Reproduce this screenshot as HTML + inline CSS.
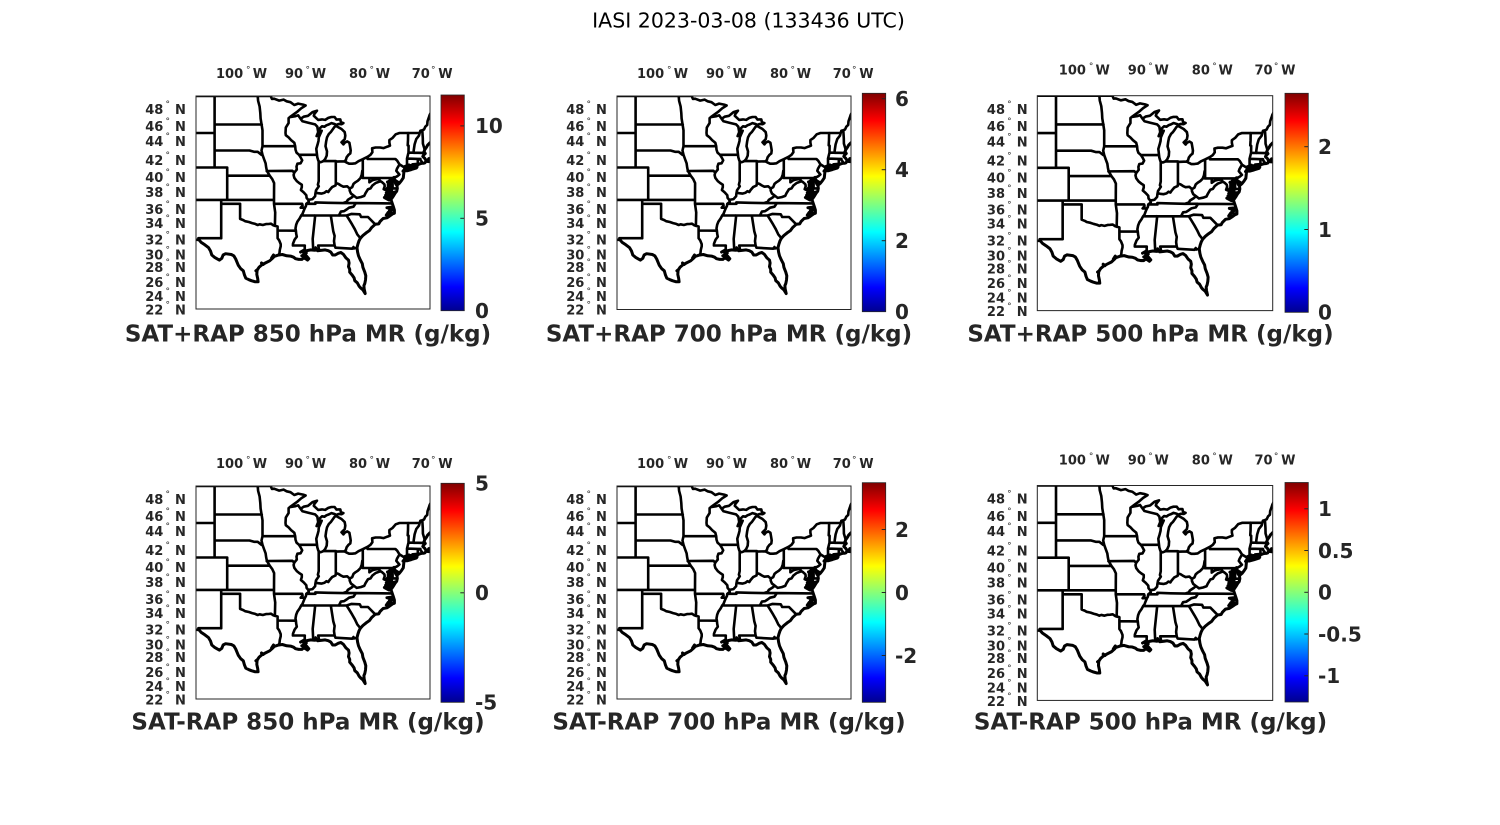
<!DOCTYPE html>
<html><head><meta charset="utf-8">
<style>
html,body{margin:0;padding:0;background:#fff;}
svg{display:block;}
.tt{font-family:"DejaVu Sans","Liberation Sans",sans-serif;font-size:20.5px;fill:#000;}
.lt{font-family:"DejaVu Sans","Liberation Sans",sans-serif;font-weight:bold;font-size:13px;fill:#262626;}
.lo{font-family:"DejaVu Sans","Liberation Sans",sans-serif;font-weight:bold;font-size:13px;fill:#262626;}
.dg{font-family:"DejaVu Sans","Liberation Sans",sans-serif;font-size:9px;fill:#262626;text-anchor:middle;}
.cb{font-family:"DejaVu Sans","Liberation Sans",sans-serif;font-weight:bold;font-size:20px;fill:#262626;}
.xl{font-family:"DejaVu Sans","Liberation Sans",sans-serif;font-weight:bold;font-size:23px;fill:#262626;text-anchor:middle;}
.bx{fill:none;stroke:#262626;stroke-width:1;}
.cbr{stroke:#262626;stroke-width:0.8;}
.tk{stroke:#262626;stroke-width:1;}
</style></head>
<body>
<svg width="1500" height="825" viewBox="0 0 1500 825" xmlns="http://www.w3.org/2000/svg">
<defs>
<linearGradient id="jet" x1="0" y1="1" x2="0" y2="0">
<stop offset="0" stop-color="#00008f"/>
<stop offset="0.11" stop-color="#0000ff"/>
<stop offset="0.365" stop-color="#00ffff"/>
<stop offset="0.62" stop-color="#ffff00"/>
<stop offset="0.875" stop-color="#ff0000"/>
<stop offset="1" stop-color="#800000"/>
</linearGradient>
<clipPath id="cp"><rect x="0" y="0" width="234" height="213"/></clipPath>
<g id="map"><path id="mp" d="" fill="none" stroke="#000" stroke-width="2.6" stroke-linejoin="round" stroke-linecap="round"/><path id="mp2" d="" fill="none" stroke="#000" stroke-width="3" stroke-linejoin="round" stroke-linecap="round"/></g>
</defs>
<rect width="1500" height="825" fill="#fff"/>

<text class="tt" x="748.5" y="27.3" text-anchor="middle">IASI 2023-03-08 (133436 UTC)</text>

<g transform="translate(196,96)"><g clip-path="url(#cp)"><use href="#map"/></g><rect class="bx" width="234" height="213"/></g>
<g transform="translate(617,96)"><g clip-path="url(#cp)"><use href="#map"/></g><rect class="bx" width="234" height="213.5"/></g>
<g transform="translate(1037.3,95.7) scale(1.006,1.009)"><g clip-path="url(#cp)"><use href="#map"/></g><rect class="bx" width="234" height="213"/></g>
<g transform="translate(196,486)"><g clip-path="url(#cp)"><use href="#map"/></g><rect class="bx" width="234" height="213"/></g>
<g transform="translate(617,486)"><g clip-path="url(#cp)"><use href="#map"/></g><rect class="bx" width="234" height="213"/></g>
<g transform="translate(1037.3,485.5) scale(1.006,1.009)"><g clip-path="url(#cp)"><use href="#map"/></g><rect class="bx" width="234" height="213"/></g>

<rect class="cbr" x="441" y="95" width="23.3" height="215.7" fill="url(#jet)"/>
<rect class="cbr" x="862.3" y="93.3" width="23.4" height="218.4" fill="url(#jet)"/>
<rect class="cbr" x="1285" y="93.3" width="23.3" height="219" fill="url(#jet)"/>
<rect class="cbr" x="441" y="483.3" width="23.3" height="219" fill="url(#jet)"/>
<rect class="cbr" x="862.3" y="482.7" width="23.4" height="219.6" fill="url(#jet)"/>
<rect class="cbr" x="1285" y="482.5" width="23.3" height="219.5" fill="url(#jet)"/>
<g class="tk">
<line x1="460.3" y1="125.9" x2="464.3" y2="125.9"/><line x1="460.3" y1="218.3" x2="464.3" y2="218.3"/>
<line x1="881.7" y1="98.7" x2="885.7" y2="98.7"/><line x1="881.7" y1="169.7" x2="885.7" y2="169.7"/><line x1="881.7" y1="240.7" x2="885.7" y2="240.7"/>
<line x1="1304.3" y1="146.7" x2="1308.3" y2="146.7"/><line x1="1304.3" y1="229.5" x2="1308.3" y2="229.5"/>
<line x1="460.3" y1="592.8" x2="464.3" y2="592.8"/>
<line x1="881.7" y1="529.5" x2="885.7" y2="529.5"/><line x1="881.7" y1="592.5" x2="885.7" y2="592.5"/><line x1="881.7" y1="655.5" x2="885.7" y2="655.5"/>
<line x1="1304.3" y1="508.8" x2="1308.3" y2="508.8"/><line x1="1304.3" y1="550.5" x2="1308.3" y2="550.5"/><line x1="1304.3" y1="592.3" x2="1308.3" y2="592.3"/><line x1="1304.3" y1="634" x2="1308.3" y2="634"/><line x1="1304.3" y1="675.8" x2="1308.3" y2="675.8"/>
</g>

<text class="cb" x="475" y="133.2">10</text><text class="cb" x="475" y="225.6">5</text><text class="cb" x="475" y="318">0</text>
<text class="cb" x="895" y="106">6</text><text class="cb" x="895" y="177">4</text><text class="cb" x="895" y="248">2</text><text class="cb" x="895" y="319">0</text>
<text class="cb" x="1318" y="154">2</text><text class="cb" x="1318" y="236.8">1</text><text class="cb" x="1318" y="319.6">0</text>
<text class="cb" x="475" y="490.6">5</text><text class="cb" x="475" y="600.1">0</text><text class="cb" x="475" y="709.6">-5</text>
<text class="cb" x="895" y="536.8">2</text><text class="cb" x="895" y="599.8">0</text><text class="cb" x="895" y="662.8">-2</text>
<text class="cb" x="1318" y="516.1">1</text><text class="cb" x="1318" y="557.8">0.5</text><text class="cb" x="1318" y="599.6">0</text><text class="cb" x="1318" y="641.3">-0.5</text><text class="cb" x="1318" y="683.1">-1</text>

<text class="xl" x="308" y="341.5">SAT+RAP 850 hPa MR (g/kg)</text>
<text class="xl" x="729" y="341.5">SAT+RAP 700 hPa MR (g/kg)</text>
<text class="xl" x="1150.5" y="341.5">SAT+RAP 500 hPa MR (g/kg)</text>
<text class="xl" x="308" y="729.3">SAT-RAP 850 hPa MR (g/kg)</text>
<text class="xl" x="729" y="729.3">SAT-RAP 700 hPa MR (g/kg)</text>
<text class="xl" x="1150.5" y="729.3">SAT-RAP 500 hPa MR (g/kg)</text>

<g>
<text class="lo" x="216" y="78">100</text><text class="dg" x="248.3" y="72.5">°</text><text class="lo" x="252.7" y="78">W</text>
<text class="lo" x="285" y="78">90</text><text class="dg" x="307.7" y="72.5">°</text><text class="lo" x="311.7" y="78">W</text>
<text class="lo" x="349" y="78">80</text><text class="dg" x="371.7" y="72.5">°</text><text class="lo" x="375.7" y="78">W</text>
<text class="lo" x="411.7" y="78">70</text><text class="dg" x="433.3" y="72.5">°</text><text class="lo" x="438.3" y="78">W</text>
</g>
<g>
<text class="lo" x="637" y="78">100</text><text class="dg" x="669.3" y="72.5">°</text><text class="lo" x="673.7" y="78">W</text>
<text class="lo" x="706" y="78">90</text><text class="dg" x="728.7" y="72.5">°</text><text class="lo" x="732.7" y="78">W</text>
<text class="lo" x="770" y="78">80</text><text class="dg" x="792.7" y="72.5">°</text><text class="lo" x="796.7" y="78">W</text>
<text class="lo" x="832.7" y="78">70</text><text class="dg" x="854.3" y="72.5">°</text><text class="lo" x="859.3" y="78">W</text>
</g>
<g>
<text class="lo" x="1058.8" y="74.7">100</text><text class="dg" x="1091.1" y="69.2">°</text><text class="lo" x="1095.5" y="74.7">W</text>
<text class="lo" x="1127.8" y="74.7">90</text><text class="dg" x="1150.5" y="69.2">°</text><text class="lo" x="1154.5" y="74.7">W</text>
<text class="lo" x="1191.8" y="74.7">80</text><text class="dg" x="1214.5" y="69.2">°</text><text class="lo" x="1218.5" y="74.7">W</text>
<text class="lo" x="1254.5" y="74.7">70</text><text class="dg" x="1276.1" y="69.2">°</text><text class="lo" x="1281.1" y="74.7">W</text>
</g>
<g>
<text class="lo" x="216" y="468">100</text><text class="dg" x="248.3" y="462.5">°</text><text class="lo" x="252.7" y="468">W</text>
<text class="lo" x="285" y="468">90</text><text class="dg" x="307.7" y="462.5">°</text><text class="lo" x="311.7" y="468">W</text>
<text class="lo" x="349" y="468">80</text><text class="dg" x="371.7" y="462.5">°</text><text class="lo" x="375.7" y="468">W</text>
<text class="lo" x="411.7" y="468">70</text><text class="dg" x="433.3" y="462.5">°</text><text class="lo" x="438.3" y="468">W</text>
</g>
<g>
<text class="lo" x="637" y="468">100</text><text class="dg" x="669.3" y="462.5">°</text><text class="lo" x="673.7" y="468">W</text>
<text class="lo" x="706" y="468">90</text><text class="dg" x="728.7" y="462.5">°</text><text class="lo" x="732.7" y="468">W</text>
<text class="lo" x="770" y="468">80</text><text class="dg" x="792.7" y="462.5">°</text><text class="lo" x="796.7" y="468">W</text>
<text class="lo" x="832.7" y="468">70</text><text class="dg" x="854.3" y="462.5">°</text><text class="lo" x="859.3" y="468">W</text>
</g>
<g>
<text class="lo" x="1058.8" y="464.7">100</text><text class="dg" x="1091.1" y="459.2">°</text><text class="lo" x="1095.5" y="464.7">W</text>
<text class="lo" x="1127.8" y="464.7">90</text><text class="dg" x="1150.5" y="459.2">°</text><text class="lo" x="1154.5" y="464.7">W</text>
<text class="lo" x="1191.8" y="464.7">80</text><text class="dg" x="1214.5" y="459.2">°</text><text class="lo" x="1218.5" y="464.7">W</text>
<text class="lo" x="1254.5" y="464.7">70</text><text class="dg" x="1276.1" y="459.2">°</text><text class="lo" x="1281.1" y="464.7">W</text>
</g>

<g text-anchor="end">
<text class="lt" x="163.3" y="114">48</text><text class="lt" x="163.3" y="131.2">46</text><text class="lt" x="163.3" y="146.2">44</text><text class="lt" x="163.3" y="165.2">42</text><text class="lt" x="163.3" y="182.2">40</text><text class="lt" x="163.3" y="197.2">38</text><text class="lt" x="163.3" y="213.8">36</text><text class="lt" x="163.3" y="227.8">34</text><text class="lt" x="163.3" y="244.5">32</text><text class="lt" x="163.3" y="259.5">30</text><text class="lt" x="163.3" y="272.2">28</text><text class="lt" x="163.3" y="286.8">26</text><text class="lt" x="163.3" y="301.2">24</text><text class="lt" x="163.3" y="314.5">22</text>
</g>
<g>
<text class="dg" x="167.7" y="107">°</text><text class="dg" x="167.7" y="124.2">°</text><text class="dg" x="167.7" y="139.2">°</text><text class="dg" x="167.7" y="158.2">°</text><text class="dg" x="167.7" y="175.2">°</text><text class="dg" x="167.7" y="190.2">°</text><text class="dg" x="167.7" y="206.8">°</text><text class="dg" x="167.7" y="220.8">°</text><text class="dg" x="167.7" y="237.5">°</text><text class="dg" x="167.7" y="252.5">°</text><text class="dg" x="167.7" y="265.2">°</text><text class="dg" x="167.7" y="279.8">°</text><text class="dg" x="167.7" y="294.2">°</text><text class="dg" x="167.7" y="307.5">°</text>
</g>
<g>
<text class="lt" x="175" y="114">N</text><text class="lt" x="175" y="131.2">N</text><text class="lt" x="175" y="146.2">N</text><text class="lt" x="175" y="165.2">N</text><text class="lt" x="175" y="182.2">N</text><text class="lt" x="175" y="197.2">N</text><text class="lt" x="175" y="213.8">N</text><text class="lt" x="175" y="227.8">N</text><text class="lt" x="175" y="244.5">N</text><text class="lt" x="175" y="259.5">N</text><text class="lt" x="175" y="272.2">N</text><text class="lt" x="175" y="286.8">N</text><text class="lt" x="175" y="301.2">N</text><text class="lt" x="175" y="314.5">N</text>
</g>

<g text-anchor="end">
<text class="lt" x="584.3" y="114">48</text><text class="lt" x="584.3" y="131.2">46</text><text class="lt" x="584.3" y="146.2">44</text><text class="lt" x="584.3" y="165.2">42</text><text class="lt" x="584.3" y="182.2">40</text><text class="lt" x="584.3" y="197.2">38</text><text class="lt" x="584.3" y="213.8">36</text><text class="lt" x="584.3" y="227.8">34</text><text class="lt" x="584.3" y="244.5">32</text><text class="lt" x="584.3" y="259.5">30</text><text class="lt" x="584.3" y="272.2">28</text><text class="lt" x="584.3" y="286.8">26</text><text class="lt" x="584.3" y="301.2">24</text><text class="lt" x="584.3" y="314.5">22</text>
</g>
<g>
<text class="dg" x="588.7" y="107">°</text><text class="dg" x="588.7" y="124.2">°</text><text class="dg" x="588.7" y="139.2">°</text><text class="dg" x="588.7" y="158.2">°</text><text class="dg" x="588.7" y="175.2">°</text><text class="dg" x="588.7" y="190.2">°</text><text class="dg" x="588.7" y="206.8">°</text><text class="dg" x="588.7" y="220.8">°</text><text class="dg" x="588.7" y="237.5">°</text><text class="dg" x="588.7" y="252.5">°</text><text class="dg" x="588.7" y="265.2">°</text><text class="dg" x="588.7" y="279.8">°</text><text class="dg" x="588.7" y="294.2">°</text><text class="dg" x="588.7" y="307.5">°</text>
</g>
<g>
<text class="lt" x="596" y="114">N</text><text class="lt" x="596" y="131.2">N</text><text class="lt" x="596" y="146.2">N</text><text class="lt" x="596" y="165.2">N</text><text class="lt" x="596" y="182.2">N</text><text class="lt" x="596" y="197.2">N</text><text class="lt" x="596" y="213.8">N</text><text class="lt" x="596" y="227.8">N</text><text class="lt" x="596" y="244.5">N</text><text class="lt" x="596" y="259.5">N</text><text class="lt" x="596" y="272.2">N</text><text class="lt" x="596" y="286.8">N</text><text class="lt" x="596" y="301.2">N</text><text class="lt" x="596" y="314.5">N</text>
</g>

<g text-anchor="end">
<text class="lt" x="1005" y="113.8">48</text><text class="lt" x="1005" y="131.2">46</text><text class="lt" x="1005" y="146.3">44</text><text class="lt" x="1005" y="165.5">42</text><text class="lt" x="1005" y="182.6">40</text><text class="lt" x="1005" y="197.8">38</text><text class="lt" x="1005" y="214.5">36</text><text class="lt" x="1005" y="228.6">34</text><text class="lt" x="1005" y="245.5">32</text><text class="lt" x="1005" y="260.6">30</text><text class="lt" x="1005" y="273.4">28</text><text class="lt" x="1005" y="288.2">26</text><text class="lt" x="1005" y="302.7">24</text><text class="lt" x="1005" y="316.1">22</text>
</g>
<g>
<text class="dg" x="1009.4" y="106.8">°</text><text class="dg" x="1009.4" y="124.2">°</text><text class="dg" x="1009.4" y="139.3">°</text><text class="dg" x="1009.4" y="158.5">°</text><text class="dg" x="1009.4" y="175.6">°</text><text class="dg" x="1009.4" y="190.8">°</text><text class="dg" x="1009.4" y="207.5">°</text><text class="dg" x="1009.4" y="221.6">°</text><text class="dg" x="1009.4" y="238.5">°</text><text class="dg" x="1009.4" y="253.6">°</text><text class="dg" x="1009.4" y="266.4">°</text><text class="dg" x="1009.4" y="281.2">°</text><text class="dg" x="1009.4" y="295.7">°</text><text class="dg" x="1009.4" y="309.1">°</text>
</g>
<g>
<text class="lt" x="1016.7" y="113.8">N</text><text class="lt" x="1016.7" y="131.2">N</text><text class="lt" x="1016.7" y="146.3">N</text><text class="lt" x="1016.7" y="165.5">N</text><text class="lt" x="1016.7" y="182.6">N</text><text class="lt" x="1016.7" y="197.8">N</text><text class="lt" x="1016.7" y="214.5">N</text><text class="lt" x="1016.7" y="228.6">N</text><text class="lt" x="1016.7" y="245.5">N</text><text class="lt" x="1016.7" y="260.6">N</text><text class="lt" x="1016.7" y="273.4">N</text><text class="lt" x="1016.7" y="288.2">N</text><text class="lt" x="1016.7" y="302.7">N</text><text class="lt" x="1016.7" y="316.1">N</text>
</g>

<g text-anchor="end">
<text class="lt" x="163.3" y="504">48</text><text class="lt" x="163.3" y="521.2">46</text><text class="lt" x="163.3" y="536.2">44</text><text class="lt" x="163.3" y="555.2">42</text><text class="lt" x="163.3" y="572.2">40</text><text class="lt" x="163.3" y="587.2">38</text><text class="lt" x="163.3" y="603.8">36</text><text class="lt" x="163.3" y="617.8">34</text><text class="lt" x="163.3" y="634.5">32</text><text class="lt" x="163.3" y="649.5">30</text><text class="lt" x="163.3" y="662.2">28</text><text class="lt" x="163.3" y="676.8">26</text><text class="lt" x="163.3" y="691.2">24</text><text class="lt" x="163.3" y="704.5">22</text>
</g>
<g>
<text class="dg" x="167.7" y="497">°</text><text class="dg" x="167.7" y="514.2">°</text><text class="dg" x="167.7" y="529.2">°</text><text class="dg" x="167.7" y="548.2">°</text><text class="dg" x="167.7" y="565.2">°</text><text class="dg" x="167.7" y="580.2">°</text><text class="dg" x="167.7" y="596.8">°</text><text class="dg" x="167.7" y="610.8">°</text><text class="dg" x="167.7" y="627.5">°</text><text class="dg" x="167.7" y="642.5">°</text><text class="dg" x="167.7" y="655.2">°</text><text class="dg" x="167.7" y="669.8">°</text><text class="dg" x="167.7" y="684.2">°</text><text class="dg" x="167.7" y="697.5">°</text>
</g>
<g>
<text class="lt" x="175" y="504">N</text><text class="lt" x="175" y="521.2">N</text><text class="lt" x="175" y="536.2">N</text><text class="lt" x="175" y="555.2">N</text><text class="lt" x="175" y="572.2">N</text><text class="lt" x="175" y="587.2">N</text><text class="lt" x="175" y="603.8">N</text><text class="lt" x="175" y="617.8">N</text><text class="lt" x="175" y="634.5">N</text><text class="lt" x="175" y="649.5">N</text><text class="lt" x="175" y="662.2">N</text><text class="lt" x="175" y="676.8">N</text><text class="lt" x="175" y="691.2">N</text><text class="lt" x="175" y="704.5">N</text>
</g>

<g text-anchor="end">
<text class="lt" x="584.3" y="504">48</text><text class="lt" x="584.3" y="521.2">46</text><text class="lt" x="584.3" y="536.2">44</text><text class="lt" x="584.3" y="555.2">42</text><text class="lt" x="584.3" y="572.2">40</text><text class="lt" x="584.3" y="587.2">38</text><text class="lt" x="584.3" y="603.8">36</text><text class="lt" x="584.3" y="617.8">34</text><text class="lt" x="584.3" y="634.5">32</text><text class="lt" x="584.3" y="649.5">30</text><text class="lt" x="584.3" y="662.2">28</text><text class="lt" x="584.3" y="676.8">26</text><text class="lt" x="584.3" y="691.2">24</text><text class="lt" x="584.3" y="704.5">22</text>
</g>
<g>
<text class="dg" x="588.7" y="497">°</text><text class="dg" x="588.7" y="514.2">°</text><text class="dg" x="588.7" y="529.2">°</text><text class="dg" x="588.7" y="548.2">°</text><text class="dg" x="588.7" y="565.2">°</text><text class="dg" x="588.7" y="580.2">°</text><text class="dg" x="588.7" y="596.8">°</text><text class="dg" x="588.7" y="610.8">°</text><text class="dg" x="588.7" y="627.5">°</text><text class="dg" x="588.7" y="642.5">°</text><text class="dg" x="588.7" y="655.2">°</text><text class="dg" x="588.7" y="669.8">°</text><text class="dg" x="588.7" y="684.2">°</text><text class="dg" x="588.7" y="697.5">°</text>
</g>
<g>
<text class="lt" x="596" y="504">N</text><text class="lt" x="596" y="521.2">N</text><text class="lt" x="596" y="536.2">N</text><text class="lt" x="596" y="555.2">N</text><text class="lt" x="596" y="572.2">N</text><text class="lt" x="596" y="587.2">N</text><text class="lt" x="596" y="603.8">N</text><text class="lt" x="596" y="617.8">N</text><text class="lt" x="596" y="634.5">N</text><text class="lt" x="596" y="649.5">N</text><text class="lt" x="596" y="662.2">N</text><text class="lt" x="596" y="676.8">N</text><text class="lt" x="596" y="691.2">N</text><text class="lt" x="596" y="704.5">N</text>
</g>

<g text-anchor="end">
<text class="lt" x="1005" y="503.6">48</text><text class="lt" x="1005" y="521">46</text><text class="lt" x="1005" y="536.1">44</text><text class="lt" x="1005" y="555.3">42</text><text class="lt" x="1005" y="572.4">40</text><text class="lt" x="1005" y="587.6">38</text><text class="lt" x="1005" y="604.3">36</text><text class="lt" x="1005" y="618.4">34</text><text class="lt" x="1005" y="635.3">32</text><text class="lt" x="1005" y="650.4">30</text><text class="lt" x="1005" y="663.2">28</text><text class="lt" x="1005" y="678">26</text><text class="lt" x="1005" y="692.5">24</text><text class="lt" x="1005" y="705.9">22</text>
</g>
<g>
<text class="dg" x="1009.4" y="496.6">°</text><text class="dg" x="1009.4" y="514">°</text><text class="dg" x="1009.4" y="529.1">°</text><text class="dg" x="1009.4" y="548.3">°</text><text class="dg" x="1009.4" y="565.4">°</text><text class="dg" x="1009.4" y="580.6">°</text><text class="dg" x="1009.4" y="597.3">°</text><text class="dg" x="1009.4" y="611.4">°</text><text class="dg" x="1009.4" y="628.3">°</text><text class="dg" x="1009.4" y="643.4">°</text><text class="dg" x="1009.4" y="656.2">°</text><text class="dg" x="1009.4" y="671">°</text><text class="dg" x="1009.4" y="685.5">°</text><text class="dg" x="1009.4" y="698.9">°</text>
</g>
<g>
<text class="lt" x="1016.7" y="503.6">N</text><text class="lt" x="1016.7" y="521">N</text><text class="lt" x="1016.7" y="536.1">N</text><text class="lt" x="1016.7" y="555.3">N</text><text class="lt" x="1016.7" y="572.4">N</text><text class="lt" x="1016.7" y="587.6">N</text><text class="lt" x="1016.7" y="604.3">N</text><text class="lt" x="1016.7" y="618.4">N</text><text class="lt" x="1016.7" y="635.3">N</text><text class="lt" x="1016.7" y="650.4">N</text><text class="lt" x="1016.7" y="663.2">N</text><text class="lt" x="1016.7" y="678">N</text><text class="lt" x="1016.7" y="692.5">N</text><text class="lt" x="1016.7" y="705.9">N</text>
</g>
</svg>
<script>
(function(){
var L=[
[-107,49,-95.15,49],
[-95.15,49,-94.95,48.7,-94.6,48.72,-93.8,48.52,-93.1,48.62,-92.6,48.45,-92.0,48.35,-91.4,48.05,-90.8,48.2,-90.0,48.1,-89.6,48.0,-90.3,47.7,-91.0,47.3,-91.6,47.0,-92.1,46.75],
[-92.1,46.75,-91.2,46.85,-90.8,46.95,-90.4,46.57,-89.9,46.8,-89.2,46.9,-88.5,47.3,-87.8,47.45,-88.2,47.1,-88.3,46.9,-87.6,46.45,-87.0,46.5,-86.5,46.45,-86.0,46.67,-85.5,46.76,-85.0,46.76,-84.7,46.48,-84.4,46.5,-84.1,46.5,-84.0,46.2,-83.6,46.1,-83.9,45.98,-84.4,46.0,-84.7,45.9,-85.0,46.0,-85.5,46.1,-85.9,45.95,-86.3,45.85,-86.6,45.7,-87.0,45.75,-87.3,45.55,-87.6,45.1],
[-90.4,46.57,-90.1,46.3,-89.1,46.12,-88.1,45.95,-87.75,45.7,-87.6,45.1],
[-87.6,45.1,-87.85,44.65,-87.5,44.9,-87.05,45.25,-87.3,44.85,-87.5,44.5,-87.55,44.1,-87.7,43.7,-87.9,43.2,-87.8,42.5,-87.75,42.2,-87.6,41.85,-87.5,41.68,-87.2,41.63,-86.8,41.75,-86.5,42.0,-86.25,42.4,-86.2,42.9,-86.45,43.5,-86.35,44.0,-86.2,44.5,-85.9,44.9,-85.6,45.1,-85.4,45.3,-85.0,45.7,-84.75,45.78,-84.3,45.6,-83.9,45.45,-83.4,45.1,-83.3,44.7,-83.4,44.3,-83.9,43.95,-83.6,43.7,-83.4,43.9,-83.0,44.05,-82.65,43.9,-82.5,43.3,-82.45,43.0,-82.5,42.65,-82.8,42.5,-83.1,42.2,-83.2,41.9,-83.45,41.73,-83.0,41.55,-82.7,41.45,-82.2,41.45,-81.7,41.5,-81.2,41.75,-80.52,41.98,-79.76,42.27,-79.3,42.5,-79.0,42.8,-79.05,43.25,-78.5,43.35,-77.8,43.35,-77.2,43.28,-76.6,43.45,-76.2,43.55,-76.3,43.9,-76.3,44.2,-75.8,44.45,-75.3,44.85,-74.7,45.0,-71.5,45.01,-71.4,45.24,-71.08,45.3,-70.8,45.4,-70.6,45.7,-70.3,45.9,-70.25,46.3,-70.05,46.7,-69.9,47.0,-69.6,47.4],
[-92.1,46.75,-92.3,46.65,-92.3,46.1,-92.75,45.6,-92.8,45.0,-92.75,44.75,-92.3,44.5,-91.9,44.2,-91.4,43.9,-91.25,43.5,-91.2,43.1,-91.05,42.75,-90.65,42.5,-90.4,42.2,-90.15,41.85,-90.4,41.5,-90.9,41.45,-91.05,41.1,-91.0,40.75,-91.4,40.38,-91.5,40.1,-91.4,39.75,-91.0,39.35,-90.6,39.1,-90.2,38.9,-90.2,38.6,-90.35,38.25,-89.9,37.95,-89.5,37.6,-89.45,37.25,-89.17,37.0,-89.1,36.75,-89.5,36.5,-89.55,36.2,-89.7,36.0,-89.9,35.6,-90.1,35.2,-90.3,35.0,-90.55,34.6,-90.9,34.2,-91.1,33.8,-91.2,33.3,-91.15,33.0,-91.1,32.6,-91.0,32.2,-91.35,31.8,-91.6,31.25,-91.62,31.0],
[-97.2,49.0,-97.15,48.5,-96.9,47.9,-96.8,47.2,-96.75,46.6,-96.6,46.0,-96.55,45.8,-96.45,45.3,-96.45,43.5],
[-104.05,49,-104.05,41],
[-107,45,-104.05,45],
[-104.05,45.94,-96.56,45.94],
[-104.05,43.0,-98.5,43.0,-97.8,42.85,-97.2,42.85,-96.6,42.5,-96.45,42.5],
[-96.45,43.5,-96.6,43.0,-96.45,42.5],
[-96.45,43.5,-91.25,43.5],
[-96.45,42.5,-96.2,42.0,-95.95,41.5,-95.85,41.0,-95.75,40.6,-95.3,40.0,-94.9,39.6,-94.6,39.1,-94.62,37.0],
[-107,41,-102.05,41,-102.05,37],
[-102.05,40,-95.3,40],
[-95.77,40.58,-91.7,40.6,-91.42,40.38],
[-107,37,-94.62,37],
[-103,37,-103,32],
[-103,36.5,-100,36.5,-100,34.56,-99.5,34.4,-99.2,34.25,-98.6,34.15,-98.1,34.0,-97.6,33.9,-97.2,33.75,-96.9,33.85,-96.4,33.75,-95.9,33.87,-95.5,33.88,-95.1,33.93,-94.7,33.7,-94.45,33.64,-94.04,33.55,-94.04,33.02,-94.04,31.99,-93.8,31.7,-93.55,31.2,-93.55,30.9,-93.7,30.4,-93.75,30.0,-93.85,29.7],
[-94.62,37,-94.62,36.5,-94.43,35.4,-94.48,33.64],
[-94.62,36.5,-90.15,36.5,-90.08,36.3,-90.38,36.0,-89.7,36.0],
[-94.04,33.02,-91.15,33.0],
[-103,32,-106.62,32.0,-106.53,31.78,-107.2,31.78],
[-91.62,31.0,-89.73,31.0,-89.75,30.6,-89.6,30.2],
[-88.2,35.0,-88.1,34.9,-88.47,31.9,-88.4,30.4],
[-90.3,35.0,-84.32,35.0],
[-85.6,35.0,-85.2,32.9,-85.0,32.3,-85.1,31.6,-85.0,31.0],
[-87.45,30.35,-87.6,31.0,-85.0,31.0],
[-85.0,31.0,-84.85,30.7,-82.2,30.57,-82.0,30.8,-81.95,30.6,-81.45,30.7],
[-83.1,35.0,-82.8,34.6,-82.2,33.8,-81.8,33.2,-81.4,32.5,-80.9,32.0],
[-83.1,35.0,-82.3,35.2,-81.0,35.15,-80.9,35.0,-80.8,34.8,-79.7,34.8,-78.55,33.85],
[-84.32,35.0,-83.1,35.0],
[-84.32,35.0,-84.0,35.5,-83.5,35.56,-83.1,35.77,-82.7,36.0,-82.0,36.13,-81.7,36.5,-81.68,36.59],
[-81.68,36.59,-75.87,36.55],
[-89.5,36.5,-88.05,36.5,-88.07,36.68,-86.0,36.63,-83.68,36.6,-81.68,36.59],
[-83.68,36.6,-83.1,36.75,-82.9,37.0,-82.3,37.3,-81.97,37.54,-82.4,37.8,-82.6,38.17,-82.6,38.42],
[-81.97,37.54,-81.5,37.25,-80.85,37.35,-80.3,37.5,-80.1,37.85,-79.7,38.35,-79.3,38.45,-79.0,38.8,-78.5,39.1,-77.85,39.3,-77.72,39.32],
[-79.48,39.72,-79.48,39.2,-79.0,39.45,-78.5,39.55,-78.0,39.6,-77.72,39.32,-77.45,39.2,-77.1,38.95,-77.05,38.7,-77.2,38.35,-76.9,38.25,-76.3,38.0],
[-80.52,40.64,-80.52,39.72,-75.79,39.72,-75.79,38.45,-75.05,38.45],
[-75.79,39.72,-75.55,39.83,-75.4,39.8],
[-75.9,37.95,-75.24,38.03],
[-89.17,37.0,-88.5,37.1,-88.1,37.45,-88.05,37.8,-87.9,37.9,-87.6,37.85,-87.1,37.8,-86.6,37.9,-86.3,38.1,-86.0,38.0,-85.8,38.25,-85.4,38.6,-84.85,38.8,-84.8,39.1,-84.4,39.0,-84.0,38.8,-83.6,38.65,-83.0,38.7,-82.6,38.42,-82.2,38.6,-82.0,39.0,-81.7,39.2,-81.3,39.4,-80.9,39.7,-80.7,40.1,-80.6,40.6,-80.52,40.64],
[-87.53,41.76,-87.53,39.35,-87.65,38.9,-87.5,38.7,-87.95,38.2,-88.05,37.8],
[-84.81,41.76,-84.81,39.1],
[-86.82,41.76,-84.81,41.76,-84.81,41.7,-83.45,41.73],
[-90.65,42.5,-87.8,42.5],
[-80.52,40.64,-80.52,41.98],
[-79.76,42.27,-79.76,42.0,-75.35,42.0,-75.07,41.8,-74.7,41.36,-73.9,40.99],
[-74.7,41.36,-75.1,40.85,-75.2,40.6,-75.0,40.4,-74.72,40.15,-75.05,39.95,-75.4,39.8,-75.55,39.6],
[-73.34,45.01,-73.35,44.2,-73.4,43.6,-73.25,43.55,-73.27,42.75,-73.5,42.05,-73.5,41.2,-73.65,41.0],
[-73.27,42.75,-71.0,42.72,-70.8,42.87],
[-71.5,45.01,-71.6,44.7,-72.05,44.3,-72.3,43.7,-72.45,43.0,-72.46,42.73],
[-71.08,45.3,-71.0,44.4,-70.98,43.8,-70.7,43.1],
[-73.5,42.05,-71.8,42.02,-71.38,42.02,-71.38,41.9,-71.13,41.65,-71.12,41.5],
[-71.8,42.02,-71.8,41.33]
];
var C=[
[-106.53,31.78,-106.2,31.45,-105.6,31.1,-105.0,30.7,-104.7,30.25,-104.5,29.7,-104.0,29.35,-103.3,29.0,-102.9,29.25,-102.7,29.7,-102.3,29.88,-101.4,29.77,-101.0,29.6,-100.7,29.15,-100.3,28.3,-99.9,27.8,-99.5,27.5,-99.3,26.9,-99.1,26.45,-98.6,26.25,-98.2,26.1,-97.6,25.95,-97.15,25.95,-97.2,26.4,-97.35,27.0,-97.3,27.6,-97.0,28.0,-96.6,28.3,-96.0,28.6,-95.3,28.9,-94.8,29.3,-94.6,29.5,-94.0,29.68,-93.85,29.7,-93.3,29.77,-92.6,29.6,-92.0,29.55,-91.5,29.4,-91.2,29.2,-90.7,29.1,-90.2,29.1,-89.9,29.3,-89.6,29.2,-89.3,29.0,-89.1,29.2,-89.4,29.5,-89.6,29.7,-89.7,30.0,-90.1,30.2,-89.8,30.15,-89.6,30.2,-89.3,30.33,-88.8,30.4,-88.4,30.38,-88.1,30.35,-88.0,30.7,-87.9,30.5,-87.7,30.28,-87.0,30.35,-86.5,30.4,-86.0,30.3,-85.6,30.1,-85.3,29.7,-84.9,29.7,-84.4,29.95,-84.0,30.05,-83.6,29.8,-83.2,29.3,-82.8,29.0,-82.7,28.6,-82.8,28.1,-82.6,27.7,-82.6,27.3,-82.2,26.9,-81.9,26.5,-81.8,26.1,-81.4,25.8,-81.1,25.3,-80.9,25.1,-80.5,24.8,-80.15,24.25,-80.3,24.9,-80.35,25.4,-80.2,25.7,-80.1,26.2,-80.05,26.8,-80.2,27.3,-80.5,28.0,-80.6,28.5,-80.9,29.0,-81.2,29.6,-81.35,30.1,-81.45,30.7,-81.3,31.2,-81.15,31.6,-80.9,32.0,-80.5,32.35,-80.0,32.7,-79.5,33.0,-79.15,33.4,-78.55,33.85,-78.0,33.9,-77.8,34.2,-77.3,34.6,-76.7,34.7,-76.3,34.9,-75.8,35.2,-75.5,35.3,-75.5,35.7,-75.7,36.2,-75.95,36.8,-76.0,36.93,-76.3,37.0,-76.3,37.5,-76.3,38.05,-76.4,38.3,-76.5,38.7,-76.5,39.0,-76.4,39.3,-76.1,39.55,-75.95,39.55,-76.05,39.3,-76.15,38.95,-76.25,38.6,-76.05,38.3,-75.85,37.95,-75.98,37.5,-75.95,37.15,-75.65,37.5,-75.4,37.85,-75.15,38.1,-75.05,38.45,-75.1,38.8,-75.3,39.0,-75.45,39.3,-75.55,39.6,-75.5,39.5,-75.2,39.35,-74.9,39.2,-74.95,38.93,-74.7,39.1,-74.4,39.4,-74.1,39.75,-74.05,40.1,-74.0,40.45,-74.15,40.55,-74.0,40.7,-73.8,40.85,-73.65,41.0,-73.3,41.12,-72.9,41.25,-72.4,41.27,-71.85,41.32,-71.4,41.45,-71.15,41.5,-70.9,41.5,-70.65,41.55,-70.5,41.75,-70.0,41.7,-69.95,41.9,-70.05,42.05,-70.2,41.85,-70.6,41.95,-70.7,42.1,-71.0,42.3,-70.9,42.45,-70.6,42.65,-70.8,42.87,-70.7,43.08,-70.4,43.4,-70.2,43.65,-69.85,43.9],
[-74.0,40.6,-73.5,40.6,-72.8,40.75,-72.0,40.95,-71.9,41.07,-72.4,40.98,-73.0,40.95,-73.6,40.9,-73.9,40.8],
[-77.05,38.4,-76.6,38.2],[-76.9,37.6,-76.3,37.3],[-77.1,37.3,-76.4,37.0],[-76.6,39.25,-76.35,39.1],[-76.3,38.6,-76.0,38.7],
[-76.3,37.2,-75.95,37.6,-76.4,37.9,-75.95,38.3,-76.45,38.6,-76.05,38.9,-76.4,39.2],
[-76.7,38.0,-76.2,38.2,-76.6,38.5,-76.1,38.8],[-76.8,37.9,-76.35,37.7],
[-75.75,36.1,-76.7,36.0,-76.2,35.9],[-75.55,35.3,-76.5,35.4,-76.8,35.05,-76.4,35.0],[-75.7,35.8,-76.3,35.6],
[-90.2,29.6,-89.75,29.8],[-90.4,30.1,-89.9,30.35],[-89.5,30.0,-89.9,29.9,-89.6,29.5],
[-95.0,29.3,-94.7,29.7],[-96.6,28.6,-96.3,28.4],[-97.5,27.5,-97.2,27.7],
[-73.9,41.1,-73.2,41.3],[-72.6,41.35,-71.9,41.4]
];
var S=6.3,R=361,M0=Math.log(Math.tan(Math.PI/4+49*Math.PI/360));
function py(la){return R*(M0-Math.log(Math.tan(Math.PI/4+la*Math.PI/360)));}
function build(A){var d='';
for(var i=0;i<A.length;i++){var a=A[i];
for(var j=0;j<a.length;j+=2){d+=(j?'L':'M')+((a[j]+107)*S).toFixed(1)+' '+py(a[j+1]).toFixed(1);}}
return d;}
document.getElementById('mp').setAttribute('d',build(L));
document.getElementById('mp2').setAttribute('d',build(C));
})();
</script>
</body></html>
